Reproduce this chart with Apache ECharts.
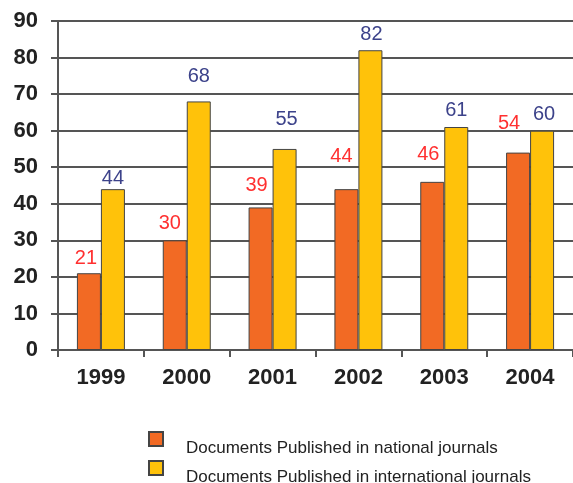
<!DOCTYPE html>
<html>
<head>
<meta charset="utf-8">
<script src="https://cdn.jsdelivr.net/npm/echarts@6/dist/echarts.min.js"></script>
<style>
html,body{margin:0;padding:0;background:#fff;}
#chart{width:573px;height:483px;}
</style>
</head>
<body>
<div id="chart"></div>
<script>
const categories = ['1999', '2000', '2001', '2002', '2003', '2004'];
const nationalValues = [21, 30, 39, 44, 46, 54];
const internationalValues = [44, 68, 55, 82, 61, 60];
const yTicks = [0, 10, 20, 30, 40, 50, 60, 70, 80, 90];
const seriesNames = ['Documents Published in national journals', 'Documents Published in international journals'];

// label placement tweaks (styling only)
const nationalLabelGap = [5, 7, 12, 23, 17, 19];
const nationalLabelDx = [-3, -5, -4, -5, -4, -9];
const internationalLabelGap = [1, 15, 19, 6, 7, 6];
const internationalLabelDx = [0, 0, 2, 1, 0, 2];

const FONT = '"Liberation Sans", Arial, sans-serif';

function buildData(values, gaps, dxs) {
  return values.map((v, i) => ({
    value: v,
    label: { distance: gaps[i], offset: [dxs[i], 0] }
  }));
}

function legendFor(name, top) {
  return {
    orient: 'vertical',
    left: 148,
    top: top,
    padding: 0,
    itemWidth: 14,
    itemHeight: 14,
    icon: 'rect',
    data: [name],
    formatter: '{t|{name}}',
    textStyle: {
      rich: { t: { fontFamily: FONT, fontSize: 17, color: '#222', padding: [18, 0, 0, 18] } }
    }
  };
}

const chart = echarts.init(document.getElementById('chart'));
chart.setOption({
  animation: false,
  backgroundColor: '#fff',
  grid: { left: 58, top: 21, right: -1, bottom: 133, containLabel: false },
  legend: [legendFor(seriesNames[0], 431), legendFor(seriesNames[1], 460)],
  xAxis: {
    type: 'category',
    data: categories,
    axisLine: { show: true, lineStyle: { color: '#555', width: 2 } },
    axisTick: { show: true, length: 7, lineStyle: { color: '#555', width: 2 } },
    axisLabel: { margin: 17, fontFamily: FONT, fontSize: 22, fontWeight: 'bold', color: '#222' }
  },
  yAxis: {
    type: 'value',
    min: yTicks[0],
    max: yTicks[yTicks.length - 1],
    interval: 10,
    axisLine: { show: true, lineStyle: { color: '#555', width: 2 } },
    axisTick: { show: true, length: 7, lineStyle: { color: '#555', width: 2 } },
    axisLabel: { margin: 20, fontFamily: FONT, fontSize: 22, fontWeight: 'bold', color: '#222' },
    splitLine: { show: true, lineStyle: { color: '#555', width: 2 } }
  },
  series: [
    {
      name: seriesNames[0],
      type: 'bar',
      barWidth: 24,
      barGap: '0%',
      data: buildData(nationalValues, nationalLabelGap, nationalLabelDx),
      itemStyle: { color: '#f26a24', borderColor: '#444', borderWidth: 1 },
      label: { show: true, position: 'top', fontFamily: FONT, fontSize: 20, color: '#ff3030' }
    },
    {
      name: seriesNames[1],
      type: 'bar',
      barWidth: 24,
      barGap: '0%',
      data: buildData(internationalValues, internationalLabelGap, internationalLabelDx),
      itemStyle: { color: '#ffc20a', borderColor: '#444', borderWidth: 1 },
      label: { show: true, position: 'top', fontFamily: FONT, fontSize: 20, color: '#3c428a' }
    }
  ]
});
</script>
</body>
</html>
